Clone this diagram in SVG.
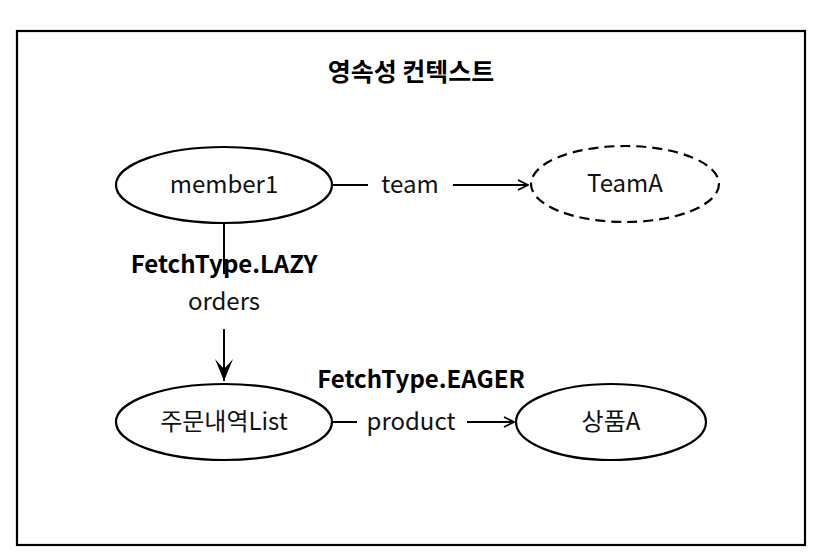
<svg xmlns="http://www.w3.org/2000/svg" width="836" height="560" viewBox="0 0 836 560">
<defs>
<marker id="open" viewBox="0 0 12 12" refX="11" refY="6" markerWidth="12" markerHeight="12" markerUnits="userSpaceOnUse" orient="auto">
<path d="M1,1 L11,6 L1,11" fill="none" stroke="#000" stroke-width="1.8"/>
</marker>
<marker id="solid" viewBox="0 0 22 20" refX="22" refY="10" markerWidth="22" markerHeight="20" markerUnits="userSpaceOnUse" orient="auto">
<path d="M0,1 L22,10 L0,19 L10,10 Z" fill="#000"/>
</marker>
</defs>
<style>
.node{fill:#fff;stroke:#000;stroke-width:2.2}
.dash{stroke-dasharray:10 6}
.t{font-family:"Noto Sans CJK KR","Noto Sans",sans-serif;font-size:24px;fill:#111;text-anchor:middle}
.b{font-family:"Noto Sans CJK KR","Noto Sans",sans-serif;font-size:24px;font-weight:bold;fill:#000;text-anchor:middle}
.title{font-size:25px}
.edge{stroke:#000;stroke-width:2;fill:none}
</style>
<rect x="17" y="31" width="788" height="514" fill="#fff" stroke="#000" stroke-width="2.2"/>
<text class="b title" x="411" y="81">영속성 컨텍스트</text>
<g id="connectors">
<line class="edge" x1="332" y1="185" x2="368" y2="185"/>
<text class="t" x="410" y="193">team</text>
<line class="edge" x1="453" y1="185" x2="528" y2="185" marker-end="url(#open)"/>
<line class="edge" x1="224" y1="223" x2="224" y2="274"/>
<text class="b" x="224" y="273">FetchType.LAZY</text>
<text class="t" x="224" y="310">orders</text>
<line class="edge" x1="224" y1="329" x2="224" y2="381" marker-end="url(#solid)"/>
<text class="b" x="421" y="388">FetchType.EAGER</text>
<line class="edge" x1="332" y1="422" x2="357" y2="422"/>
<text class="t" x="411" y="430">product</text>
<line class="edge" x1="467" y1="422" x2="514" y2="422" marker-end="url(#open)"/>
</g>
<g id="member1">
<ellipse class="node" cx="224" cy="185" rx="108" ry="38"/>
<text class="t" x="224" y="193">member1</text>
</g>
<g id="teamA">
<ellipse class="node dash" cx="625" cy="184" rx="94" ry="38"/>
<text class="t" x="625" y="192">TeamA</text>
</g>
<g id="orderList">
<ellipse class="node" cx="224" cy="422" rx="108" ry="38"/>
<text class="t" x="224" y="430">주문내역List</text>
</g>
<g id="productA">
<ellipse class="node" cx="611" cy="422" rx="95" ry="38"/>
<text class="t" x="611" y="430">상품A</text>
</g>
</svg>
